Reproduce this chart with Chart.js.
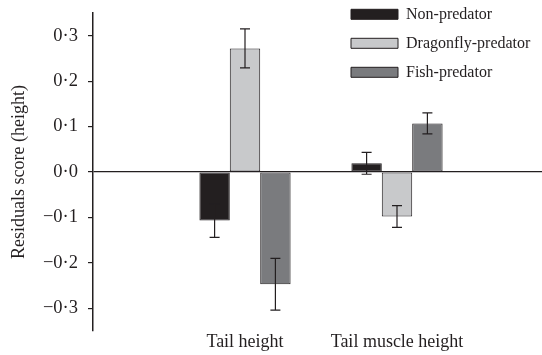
<!DOCTYPE html>
<html>
<head>
<meta charset="utf-8">
<script src="https://cdn.jsdelivr.net/npm/chart.js@4.4.1/dist/chart.umd.min.js"></script>
<style>
  html, body { margin: 0; padding: 0; background: #fff; }
</style>
</head>
<body>
<canvas id="chart" width="542" height="355"></canvas>
<script>
// values
const categories = ['Tail height', 'Tail muscle height'];
const seriesNames = ['Non-predator', 'Dragonfly-predator', 'Fish-predator'];
const nonPredator = [-0.107, 0.019];
const dragonfly = [0.272, -0.098];
const fish = [-0.247, 0.107];
const nonPredatorErr = [0.037, 0.024];
const dragonflyErr = [0.043, 0.024];
const fishErr = [0.057, 0.023];
const tickValues = [-0.3, -0.2, -0.1, 0, 0.1, 0.2, 0.3];
const tickLabels = ['\u22120\u00b73', '\u22120\u00b72', '\u22120\u00b71', '0\u00b70', '0\u00b71', '0\u00b72', '0\u00b73'];

const ink = '#231f20';
const serif = 'Liberation Serif';

function toPoints(values) {
    return values.map((v, i) => ({ x: categories[i], y: v }));
}

// whiskers drawn on top of the bars
const errorBars = {
    id: 'errorBars',
    afterDatasetsDraw(chart) {
        const ctx = chart.ctx;
        const yScale = chart.scales.y;
        ctx.save();
        ctx.strokeStyle = ink;
        ctx.lineWidth = 1.2;
        chart.data.datasets.forEach((ds, i) => {
            chart.getDatasetMeta(i).data.forEach((bar, j) => {
                const v = ds.data[j].y;
                const e = ds.errors[j];
                const top = yScale.getPixelForValue(v + e);
                const bot = yScale.getPixelForValue(v - e);
                ctx.beginPath();
                ctx.moveTo(bar.x, top); ctx.lineTo(bar.x, bot);
                ctx.moveTo(bar.x - 5, top); ctx.lineTo(bar.x + 5, top);
                ctx.moveTo(bar.x - 5, bot); ctx.lineTo(bar.x + 5, bot);
                ctx.stroke();
            });
        });
        ctx.restore();
    }
};

// plot runs a little past the right edge of the picture (it is cropped),
// and the legend sits in the top right corner of the plot
const layoutTweaks = {
    id: 'layoutTweaks',
    afterLayout(chart) {
        const x = chart.scales.x;
        chart.chartArea.right = 549;
        chart.chartArea.width = chart.chartArea.right - chart.chartArea.left;
        x.right = 549;
        x.width = x.right - x.left;
        x.configure();
        if (chart.legend) {
            chart.legend.left = 338;
            chart.legend.top = -6.7;
        }
    }
};

const ctx = document.getElementById('chart').getContext('2d');
new Chart(ctx, {
    type: 'bar',
    data: {
        datasets: [
            { label: seriesNames[0], data: toPoints(nonPredator), errors: nonPredatorErr, backgroundColor: '#231f20' },
            { label: seriesNames[1], data: toPoints(dragonfly), errors: dragonflyErr, backgroundColor: '#c8c9cb' },
            { label: seriesNames[2], data: toPoints(fish), errors: fishErr, backgroundColor: '#7a7b7e' }
        ]
    },
    options: {
        responsive: false,
        animation: false,
        layout: { padding: { top: 13, right: 0, left: 0, bottom: 0 } },
        datasets: {
            bar: {
                borderColor: ink,
                borderWidth: 1,
                borderSkipped: false,
                categoryPercentage: 0.6,
                barPercentage: 1.0
            }
        },
        scales: {
            x: {
                labels: [' ', ...categories, '  '],
                offset: false,
                grid: { display: false, drawTicks: false },
                border: { display: false },
                ticks: {
                    autoSkip: false,
                    maxRotation: 0,
                    mirror: true, // keeps the labels from being clipped
                    padding: -22,
                    color: ink,
                    font: { family: serif, size: 18 }
                },
                afterFit(s) {
                    s.height = 24;
                    s.paddingLeft = 0;
                    s.paddingRight = 0;
                }
            },
            y: {
                min: -0.35,
                max: 0.35,
                afterFit(s) {
                    s.width = 93;
                    s.paddingTop = 0;
                    s.paddingBottom = 0;
                },
                afterBuildTicks(s) { s.ticks = tickValues.map(v => ({ value: v })); },
                ticks: {
                    callback: (v, i) => tickLabels[i],
                    padding: 10,
                    color: ink,
                    font: { family: serif, size: 18.5 }
                },
                grid: {
                    color: c => (c.tick && c.tick.value === 0 ? ink : 'transparent'),
                    tickColor: ink,
                    tickLength: 5,
                    lineWidth: 1.2
                },
                border: { color: ink, width: 1.5 },
                title: {
                    display: true,
                    text: 'Residuals score (height)',
                    color: ink,
                    font: { family: serif, size: 18 },
                    padding: { top: 8, bottom: 0 }
                }
            }
        },
        plugins: {
            legend: {
                position: 'chartArea',
                align: 'start',
                labels: {
                    boxWidth: 47,
                    boxHeight: 10,
                    padding: 13,
                    color: ink,
                    font: { family: serif, size: 16 }
                }
            },
            tooltip: { enabled: false }
        }
    },
    plugins: [errorBars, layoutTweaks]
});
</script>
</body>
</html>
